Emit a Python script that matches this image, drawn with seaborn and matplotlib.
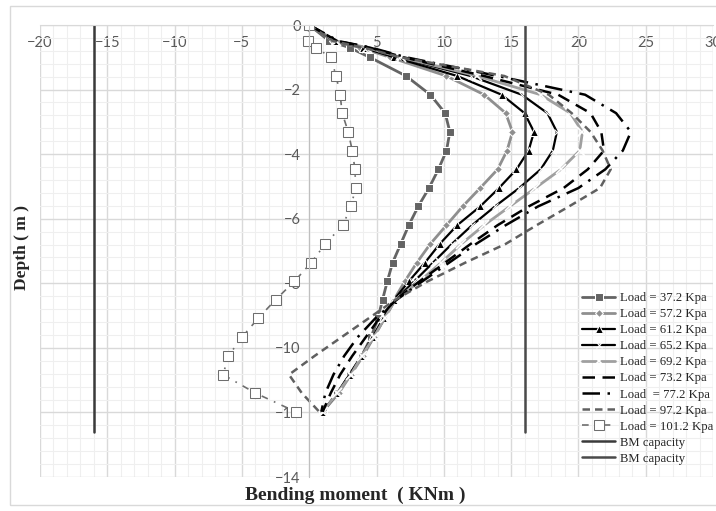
import matplotlib
matplotlib.use("Agg")
import matplotlib.pyplot as plt
import seaborn as sns
from matplotlib.patches import Rectangle
from matplotlib.ticker import MultipleLocator

# depth of each node (m)
depth = [0, -0.5, -0.7, -1.0, -1.58, -2.16, -2.73, -3.31, -3.89, -4.47, -5.05, -5.62,
         -6.2, -6.78, -7.36, -7.94, -8.51, -9.09, -9.67, -10.25, -10.83, -11.4, -11.98]

# bending moment (KNm) for each load
bm_372 = [0, 1.5, 3.0, 4.5, 7.2, 9.0, 10.1, 10.45, 10.2, 9.6, 8.9, 8.1,
          7.4, 6.8, 6.2, 5.8, 5.45, 5.1, 4.6, 3.9, 3.0, 2.1, 1.0]
bm_572 = [0, 1.8, 3.8, 6.0, 10.2, 13.0, 14.6, 15.1, 14.7, 14.0, 12.7, 11.4,
          10.2, 9.0, 8.0, 7.1, 6.3, 5.5, 4.8, 4.0, 3.1, 2.2, 1.0]
bm_612 = [0, 1.9, 4.0, 6.3, 11.0, 14.3, 16.0, 16.7, 16.3, 15.4, 14.1, 12.7,
          11.0, 9.7, 8.6, 7.4, 6.3, 5.5, 4.7, 3.9, 3.0, 2.1, 1.0]
bm_652 = [0, 2.0, 4.2, 6.6, 12.0, 15.8, 17.7, 18.4, 18.1, 17.2, 15.6, 13.8,
          12.1, 10.6, 9.2, 7.8, 6.4, 5.6, 4.8, 3.9, 3.0, 2.1, 1.0]
bm_692 = [0, 2.0, 4.3, 6.8, 12.5, 17.2, 19.4, 20.3, 20.1, 18.7, 16.8, 14.9,
          13.0, 11.3, 9.8, 8.2, 6.4, 5.6, 4.8, 3.9, 3.1, 2.1, 1.0]
bm_732 = [0, 2.1, 4.5, 7.0, 13.0, 18.5, 20.9, 21.7, 21.9, 20.7, 18.9, 16.3,
          14.0, 12.0, 10.1, 8.2, 6.4, 5.2, 4.2, 3.2, 2.3, 1.6, 1.0]
bm_772 = [0, 2.2, 4.6, 7.2, 14.0, 20.5, 22.8, 23.9, 23.3, 22.0, 20.0, 17.0,
          14.6, 12.4, 10.4, 8.4, 6.5, 4.9, 3.6, 2.6, 1.8, 1.2, 0.9]
bm_972 = [0, 1.8, 4.0, 6.8, 14.5, 17.8, 19.5, 20.9, 21.8, 22.4, 21.6, 19.3,
          16.9, 14.6, 11.6, 8.8, 6.4, 4.4, 2.4, 0.4, -1.5, -0.55, 0.75]
bm_1012 = [0, -0.1, 0.5, 1.6, 2.0, 2.3, 2.45, 2.9, 3.2, 3.4, 3.45, 3.1,
           2.5, 1.2, 0.15, -1.1, -2.5, -3.8, -5.0, -6.0, -6.4, -4.0, -1.0]

bm_capacity = 16
cap_depth = [0, -12.6]

sns.set_style("white")
plt.rcParams['font.family'] = ['Lato', 'DejaVu Sans']

fig = plt.figure(figsize=(7.16, 5.11), dpi=100)
ax = fig.add_axes([40 / 716, 1 - 477 / 511, 673 / 716, 452 / 511])

fig.patches.append(Rectangle((10 / 716, 6 / 511), 720 / 716, 499 / 511,
                             transform=fig.transFigure, fill=False,
                             edgecolor="#d9d9d9", linewidth=1))

series = [
    ("Load = 37.2 Kpa", bm_372, dict(color="#646464", lw=2, marker="s", ms=6)),
    ("Load = 57.2 Kpa", bm_572, dict(color="#8f8f8f", lw=2, marker="D", ms=4.5)),
    ("Load = 61.2 Kpa", bm_612, dict(color="black", lw=1.6, marker="^", ms=5.5)),
    ("Load = 65.2 Kpa", bm_652, dict(color="black", lw=1.6, marker="x", ms=5)),
    ("Load = 69.2 Kpa", bm_692, dict(color="#a0a0a0", lw=2, marker="x", ms=7, mew=1.2)),
    ("Load = 73.2 Kpa", bm_732, dict(color="black", lw=1.8, dashes=(5, 3))),
    ("Load  = 77.2 Kpa", bm_772, dict(color="black", lw=1.8, dashes=(7, 3, 1, 3))),
    ("Load = 97.2 Kpa", bm_972, dict(color="#606060", lw=1.8, dashes=(3, 2))),
    ("Load = 101.2 Kpa", bm_1012, dict(color="#6e6e6e", lw=1.2, dashes=(4, 4, 1, 4),
                                      marker="s", ms=6.5, mfc="white", mec="#6e6e6e")),
]

for label, vals, style in series:
    sns.lineplot(x=vals, y=depth, sort=False, estimator=None, ax=ax,
                 label=label, **style)

sns.lineplot(x=[-bm_capacity, -bm_capacity], y=cap_depth, sort=False, estimator=None,
             ax=ax, color="#3a3a3a", lw=1.8, label="BM capacity")
sns.lineplot(x=[bm_capacity, bm_capacity], y=cap_depth, sort=False, estimator=None,
             ax=ax, color="#4a4a4a", lw=1.8, label="BM capacity")

ax.set_xlim(-20, 30)
ax.set_ylim(-14, 0)
ax.xaxis.set_major_locator(MultipleLocator(5))
ax.xaxis.set_minor_locator(MultipleLocator(1))
ax.yaxis.set_major_locator(MultipleLocator(2))
ax.yaxis.set_minor_locator(MultipleLocator(0.4))
ax.grid(which="major", color="#d9d9d9", lw=1)
ax.grid(which="minor", color="#efefef", lw=0.8)
ax.set_axisbelow(True)

# Excel style axes crossing at zero
ax.spines["bottom"].set_position(("data", 0))
ax.spines["left"].set_position(("data", 0))
ax.spines["bottom"].set_color("#d9d9d9")
ax.spines["left"].set_color("#bfbfbf")
ax.spines["top"].set_visible(False)
ax.spines["right"].set_visible(False)
ax.tick_params(which="both", length=0)
ax.tick_params(axis="x", labelsize=10.5, labelcolor="#595959", pad=8)
ax.tick_params(axis="y", labelsize=10.5, labelcolor="#595959", pad=6)

ax.set_xlabel("")
ax.set_ylabel("")
fig.text(355 / 716, 1 - 495 / 511, "Bending moment  ( KNm )", ha="center", va="center",
         fontsize=14, fontweight="bold", family=["Liberation Serif"])
fig.text(22 / 716, 1 - 248 / 511, "Depth ( m )", ha="center", va="center", rotation=90,
         fontsize=12.5, fontweight="bold", family=["Liberation Serif"])

ax.legend(loc="upper left", bbox_to_anchor=(582 / 716, 1 - 292 / 511),
          bbox_transform=fig.transFigure, frameon=False,
          prop={"family": "Liberation Serif", "size": 9.2},
          handlelength=2.6, handletextpad=0.35, labelspacing=0.32, borderpad=0,
          borderaxespad=0)

fig.savefig("out.png", dpi=100)
